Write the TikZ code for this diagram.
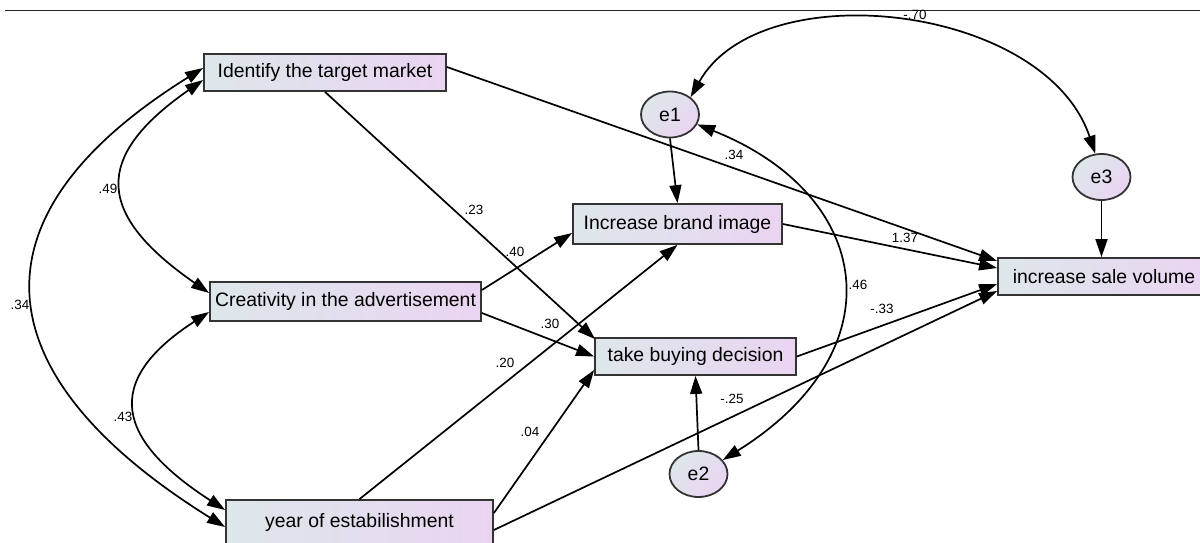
\documentclass[tikz,border=0pt]{standalone}
\usepackage{fontspec}
\setmainfont{Liberation Sans}
\usetikzlibrary{arrows.meta,calc,shapes.geometric}

\definecolor{boxleft}{HTML}{DDE7EA}
\definecolor{boxright}{HTML}{EAD4F2}

\begin{document}
\begin{tikzpicture}[x=0.5pt,y=-0.5pt]

      \tikzset{observed/.style={draw=black!80, line width=0.9pt, left color=boxleft, right color=boxright, inner sep=0pt, font=\fontsize{9.7}{11}\selectfont},
               latent/.style={draw=black!80, line width=0.9pt, ellipse, top color=boxleft, bottom color=boxright, shading angle=45, inner sep=0pt, minimum width=29pt, minimum height=23pt, font=\fontsize{9.7}{11}\selectfont},
               path/.style={-{Triangle[length=9pt,width=6pt]}, line width=0.85pt},
               cov/.style={{Triangle[length=9pt,width=6pt]}-{Triangle[length=9pt,width=6pt]}, line width=0.85pt},
               lbl/.style={inner sep=0.5pt, font=\fontsize{6.7}{7}\selectfont}}
      \useasboundingbox (0,0) rectangle (1200,542);
      \draw[black!85, line width=0.5pt] (5,10) -- (1200,10);
%% Variables
      	\node[observed, minimum width=121pt, minimum height=18.5pt] (market) at (325,72.5) {Identify the target market};
      	\node[observed, minimum width=135.5pt, minimum height=19.5pt] (creativity) at (345.5,301.5) {Creativity in the advertisement};
      	\node[observed, minimum width=133.5pt, minimum height=22pt] (year) at (359.5,522) {year of estabilishment};
      	\node[observed, minimum width=104.5pt, minimum height=20pt] (brand) at (677.5,224) {Increase brand image};
      	\node[observed, minimum width=100.5pt, minimum height=18.5pt] (buying) at (695.5,356.5) {take buying decision};
      	\node[observed, minimum width=106pt, minimum height=18.5pt] (sale) at (1104,276.5) {increase sale volume};
%% Errors
      	\node[latent] (e1) at (670,114.5) {e1};
      	\node[latent] (e3) at (1101.5,177) {e3};
      	\node[latent] (e2) at (698.5,474) {e2};
%Paths
		\path[path] ($(market.east)+(0,-5.5)$) edge ($(sale.west)+(0,-15.5)$);
		\path[path] (market.south) edge ($(buying.north west)+(1,2)$);
		\path[path] ($(creativity.east)+(0,-11.5)$) edge ($(brand.west)+(0,9)$);
		\path[path] ($(creativity.east)+(0,11.5)$) edge (buying.west);
		\path[path] (year.north) edge (brand.south);
		\path[path] ($(year.east)+(0,-9)$) edge ($(buying.west)+(0,13.5)$);
		\path[path] ($(year.east)+(0,8)$) edge ($(sale.west)+(0,14.5)$);
		\path[path] (brand.east) edge ($(sale.west)+(0,-8.5)$);
		\path[path] (buying.east) edge ($(sale.west)+(0,7.5)$);
		\path[path] (e1.south) edge (brand.north);
		\path[path] (e3.south) edge (e3.south |- sale.north);
		\path[path] (e2.north) edge (buying.south);
%Covariances
		\draw[cov] ($(market.west)+(0,7.5)$) .. controls +(-112,78) and +(-112,-78) .. ($(creativity.west)+(0,-8.5)$);
		\draw[cov] ($(creativity.west)+(0,10.5)$) .. controls +(-108,70) and +(-108,-70) .. ($(year.west)+(0,-12)$);
		\draw[cov] ($(market.west)+(0,-4.5)$) .. controls +(-241,150) and +(-241,-150) .. ($(year.west)+(0,5)$);
		\draw[cov] (e1.40) .. controls +(70,-125) and +(-50,-150) .. (e3.105);
		\draw[cov] (e1.-20) .. controls +(176,70) and +(176,-110) .. (e2.30);
%Estimates
		\node[lbl] (b1) at (734,155) {.34};
		\node[lbl] (b2) at (474,210) {.23};
		\node[lbl] (b3) at (515,252) {.40};
		\node[lbl] (b4) at (550,324) {.30};
		\node[lbl] (b5) at (505,363) {.20};
		\node[lbl] (b6) at (530,432) {.04};
		\node[lbl] (b7) at (732,399) {-.25};
		\node[lbl] (b8) at (905,238) {1.37};
		\node[lbl] (b9) at (882,309) {-.33};
		\node[lbl] (c1) at (858,285) {.46};
		\node[lbl] (c2) at (915,15) {-.70};
		\node[lbl] (c3) at (108,189) {.49};
		\node[lbl] (c4) at (20,305) {.34};
		\node[lbl] (c5) at (123,417) {.43};

	\end{tikzpicture}
\end{document}
